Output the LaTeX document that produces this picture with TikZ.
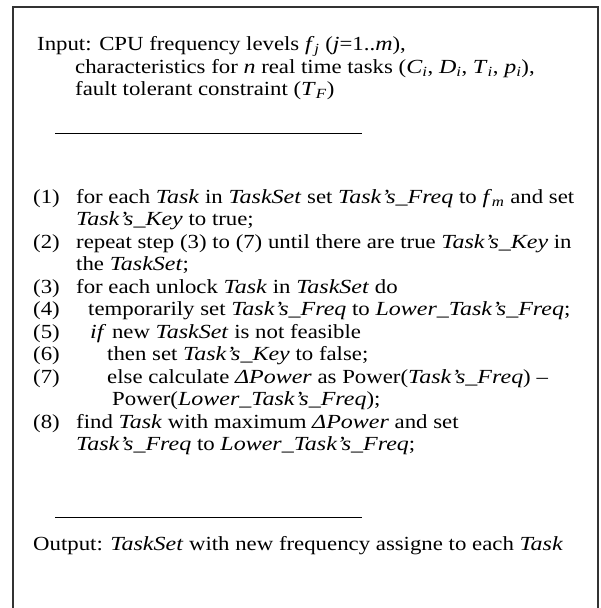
\documentclass[tikz,border=0pt]{standalone}
\usepackage{fontspec}
\setmainfont{Liberation Serif}[FakeStretch=1.14,ItalicFeatures={FakeStretch=1.20}]
\newcommand\mysub[1]{\textsubscript{#1}}
\newcommand\ti[1]{\textit{#1}}
\begin{document}
\begin{tikzpicture}[x=1pt,y=-1pt,
  txt/.style={anchor=base west,inner sep=0pt,font=\fontsize{20}{22}\selectfont},
  frame/.style={line width=1.8pt,draw=black!80},
  rulel/.style={line width=0.7pt,draw=black}]
\useasboundingbox (0,0) rectangle (600,608);
\draw[frame] (13,608) -- (13,7) -- (598,7) -- (598,608);
% input
\node[txt] (in1) at (37,50) {Input: CPU frequency levels \ti{f}\mysub{\ti{j}} (\ti{j}=1..\ti{m}),};
\node[txt] (in2) at (75,73) {characteristics for \ti{n} real time tasks (\ti{C}\mysub{\ti{i}}, \ti{D}\mysub{\ti{i}}, \ti{T}\mysub{\ti{i}}, \ti{p}\mysub{\ti{i}}),};
\node[txt] (in3) at (75,95) {fault tolerant constraint (\ti{T}\mysub{\ti{F}})};
\coordinate (r1a) at (55,133);
\coordinate (r1b) at (362,133);
\draw[rulel] (r1a) -- (r1b);
% steps
\node[txt] (n1) at (33,203) {(1)};
\node[txt] (s1) at (76,203) {for each \ti{Task} in \ti{TaskSet} set \ti{Task’s\_Freq} to \ti{f}\mysub{\ti{m}} and set};
\node[txt] (s1b) at (76,225.5) {\ti{Task’s\_Key} to true;};
\node[txt] (n2) at (33,248) {(2)};
\node[txt] (s2) at (76,248) {repeat step (3) to (7) until there are true \ti{Task’s\_Key} in};
\node[txt] (s2b) at (76,270.5) {the \ti{TaskSet};};
\node[txt] (n3) at (33,293) {(3)};
\node[txt] (s3) at (76,293) {for each unlock \ti{Task} in \ti{TaskSet} do};
\node[txt] (n4) at (33,315.5) {(4)};
\node[txt] (s4) at (88,315.5) {temporarily set \ti{Task’s\_Freq} to \ti{Lower\_Task’s\_Freq};};
\node[txt] (n5) at (33,338) {(5)};
\node[txt] (s5) at (90,338) {\ti{if} new \ti{TaskSet} is not feasible};
\node[txt] (n6) at (33,360.5) {(6)};
\node[txt] (s6) at (107,360.5) {then set \ti{Task’s\_Key} to false;};
\node[txt] (n7) at (33,383) {(7)};
\node[txt] (s7) at (107,383) {else calculate \ti{ΔPower} as Power(\ti{Task’s\_Freq}) –};
\node[txt] (s7b) at (112,405.5) {Power(\ti{Lower\_Task’s\_Freq});};
\node[txt] (n8) at (33,428) {(8)};
\node[txt] (s8) at (76,428) {find \ti{Task} with maximum \ti{ΔPower} and set};
\node[txt] (s8b) at (76,450.5) {\ti{Task’s\_Freq} to \ti{Lower\_Task’s\_Freq};};
\coordinate (r2a) at (55,517);
\coordinate (r2b) at (362,517);
\draw[rulel] (r2a) -- (r2b);
\node[txt] (out) at (33,550) {Output: \ti{TaskSet} with new frequency assigne to each \ti{Task}};
\end{tikzpicture}
\end{document}
